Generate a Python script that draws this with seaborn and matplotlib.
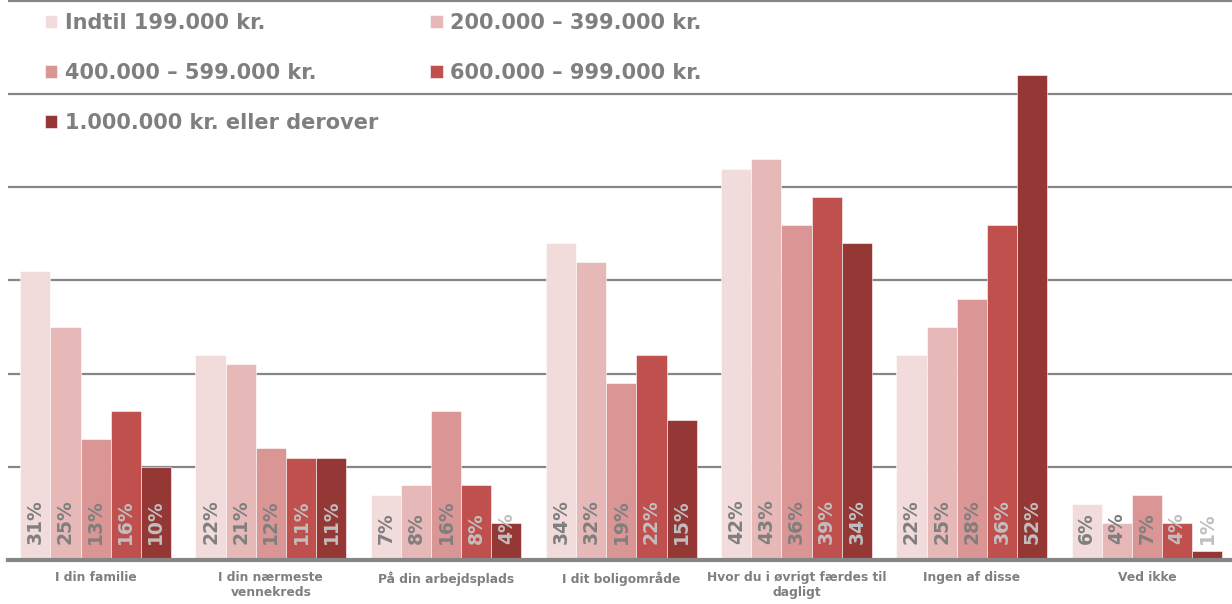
import numpy as np
import matplotlib.pyplot as plt
import seaborn as sns
import pandas as pd

# data
categories = ['I din familie', 'I din nærmeste\nvennekreds', 'På din arbejdsplads',
              'I dit boligområde', 'Hvor du i øvrigt færdes til\ndagligt',
              'Ingen af disse', 'Ved ikke']
series = ['Indtil 199.000 kr.', '200.000 – 399.000 kr.', '400.000 – 599.000 kr.',
          '600.000 – 999.000 kr.', '1.000.000 kr. eller derover']
v_199 = [31, 22, 7, 34, 42, 22, 6]
v_399 = [25, 21, 8, 32, 43, 25, 4]
v_599 = [13, 12, 16, 19, 36, 28, 7]
v_999 = [16, 11, 8, 22, 39, 36, 4]
v_1m = [10, 11, 4, 15, 34, 52, 1]

colors = ['#F2DCDB', '#E6B9B8', '#D99694', '#C0504D', '#953735']
label_colors = ['#7F7F7F', '#7F7F7F', '#7F7F7F', '#BFBFBF', '#BFBFBF']

rows = []
for s, vals in zip(series, [v_199, v_399, v_599, v_999, v_1m]):
    for c, v in zip(categories, vals):
        rows.append({'kategori': c, 'indkomst': s, 'andel': v})
df = pd.DataFrame(rows)

sns.set_style('white')
plt.rcParams['font.family'] = ['DejaVu Sans']

fig = plt.figure(figsize=(12.32, 6.04), dpi=100)
ax = fig.add_axes([8 / 1232, 44 / 604, 1224 / 1232, 560 / 604])

sns.barplot(data=df, x='kategori', y='andel', hue='indkomst', order=categories,
            hue_order=series, palette=colors, width=0.86, saturation=1,
            edgecolor='white', linewidth=0.4, ax=ax, legend=True)

ax.set_xlim(-0.5, 6.485)
ax.set_ylim(0, 60.1)
ax.set_yticks([10, 20, 30, 40, 50, 60])
ax.yaxis.grid(True, color='#868686', linewidth=1.6)
ax.set_axisbelow(True)
ax.set_yticklabels([])
ax.tick_params(axis='y', length=0)
ax.tick_params(axis='x', length=0, pad=8)
ax.set_xlabel('')
ax.set_ylabel('')
for sp in ['top', 'right', 'left']:
    ax.spines[sp].set_visible(False)
ax.spines['bottom'].set_color('#868686')
ax.spines['bottom'].set_linewidth(3)
for lbl in ax.get_xticklabels():
    lbl.set_fontsize(8.8)
    lbl.set_fontweight('bold')
    lbl.set_color('#7F7F7F')

# value labels inside bars
for container, lc in zip(ax.containers, label_colors):
    for bar in container:
        h = bar.get_height()
        ax.annotate(f'{h:.0f}%', (bar.get_x() + bar.get_width() / 2, 0),
                    xytext=(0, 11.5), textcoords='offset points',
                    rotation=90, ha='center', va='bottom',
                    fontsize=13.5, fontweight='bold', color=lc)

# legend: row-wise order in two columns
handles, labels = ax.get_legend_handles_labels()
order = [0, 2, 4, 1, 3]
leg = ax.legend([handles[i] for i in order], [labels[i] for i in order],
                ncol=2, loc='upper left', bbox_to_anchor=(0.0165, 1.007),
                frameon=False, handlelength=0.6, handleheight=0.6,
                handletextpad=0.35, labelspacing=1.45, columnspacing=2.5,
                borderpad=0.3, prop={'size': 15, 'weight': 'bold'})
for t in leg.get_texts():
    t.set_color('#7F7F7F')

fig.savefig('out.png', dpi=100)
